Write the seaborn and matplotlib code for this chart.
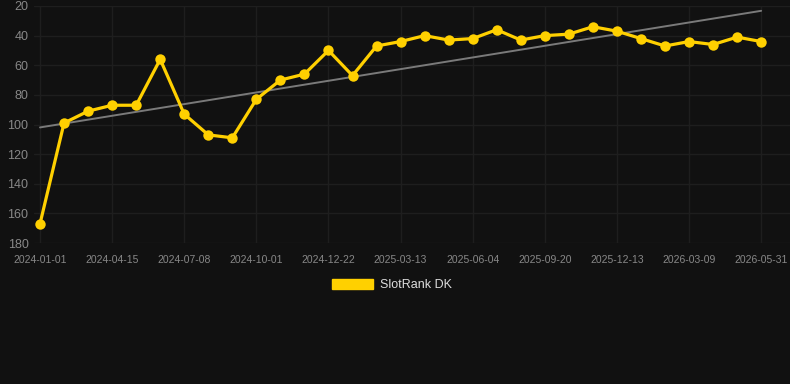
import matplotlib
matplotlib.use("Agg")
import matplotlib.pyplot as plt
import matplotlib.patches as mpatches
import seaborn as sns
import numpy as np
import pandas as pd

sns.set_theme(style="dark")
plt.rcParams['font.family'] = ['Liberation Sans', 'DejaVu Sans']

# rank values (lower = better, axis inverted)
rank = [167, 99, 91, 87, 87, 56, 93, 107, 109, 83, 70, 66, 50, 67, 47, 44,
        40, 43, 42, 36, 43, 40, 39, 34, 37, 42, 47, 44, 46, 41, 44]
tick_labels = ["2024-01-01", "2024-04-15", "2024-07-08", "2024-10-01",
               "2024-12-22", "2025-03-13", "2025-06-04", "2025-09-20",
               "2025-12-13", "2026-03-09", "2026-05-31"]
series_name = "SlotRank DK"

bg = "#111111"
gold = "#FFD000"
df = pd.DataFrame({"idx": np.arange(len(rank)), "rank": rank})

fig = plt.figure(figsize=(7.9, 3.84), dpi=100, facecolor=bg)
ax = fig.add_axes([34 / 790, 1 - 243 / 384, (790 - 34) / 790, 237 / 384])
ax.set_facecolor(bg)

# trend line (least squares fit)
sns.regplot(data=df, x="idx", y="rank", scatter=False, ci=None, truncate=True,
            color="#7a7a7a", line_kws={"linewidth": 1.4}, ax=ax)

sns.lineplot(data=df, x="idx", y="rank", color=gold, linewidth=2.3,
             marker="o", markersize=7.5, markeredgewidth=0, ax=ax)
for l in ax.lines:
    l.set_clip_on(False)

ax.set_xlim(-0.25, len(rank) - 1 + 1.2)
ax.set_ylim(180, 20)
ax.set_yticks(range(20, 181, 20))
ax.set_xticks(range(0, len(rank), 3))
ax.set_xticklabels(tick_labels)
ax.tick_params(axis="x", colors="#888888", labelsize=7.5, length=0, pad=8.5)
ax.tick_params(axis="y", colors="#888888", labelsize=9, length=0, pad=4)
ax.grid(True, color="#1e1e1e", linewidth=1.0)
ax.set_axisbelow(True)
for s in ax.spines.values():
    s.set_visible(False)
ax.set_xlabel("")
ax.set_ylabel("")

handle = mpatches.Patch(color=gold, label=series_name)
fig.legend(handles=[handle], loc="center", bbox_to_anchor=(392 / 790, 1 - 285 / 384),
           frameon=False, fontsize=9, labelcolor="#dddddd",
           handlelength=3.3, handleheight=0.9, handletextpad=0.6)

fig.savefig("out.png", dpi=100, facecolor=bg)
